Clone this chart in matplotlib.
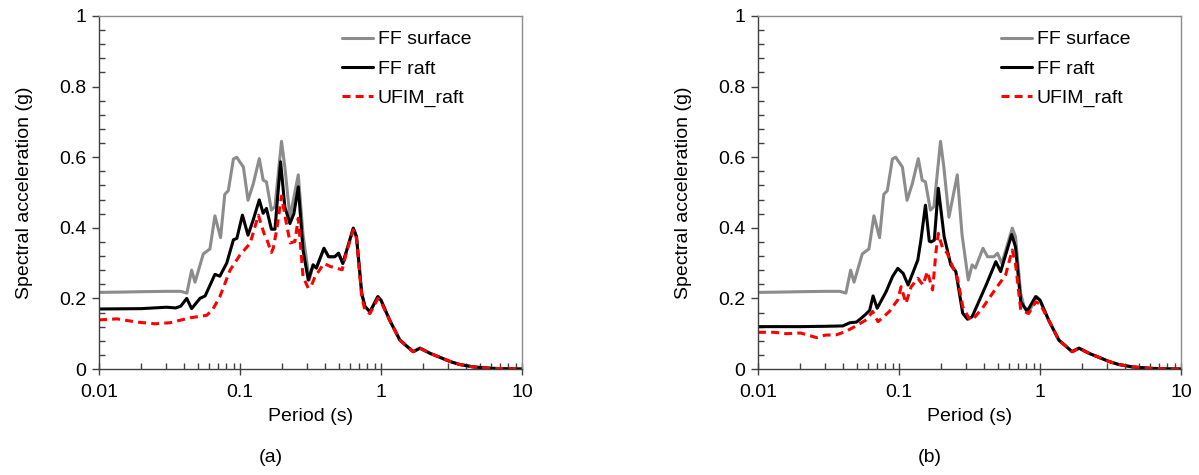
import numpy as np
import matplotlib
matplotlib.use("Agg")
import matplotlib.pyplot as plt
from matplotlib.ticker import FixedLocator, FixedFormatter, MultipleLocator, LogLocator, NullFormatter

plt.rcParams['font.family'] = ['Liberation Sans', 'DejaVu Sans']

# ---------------- data ----------------
# FF surface (same in both panels)
ff_surf_T = [0.01, 0.015, 0.02, 0.03, 0.038, 0.042, 0.0454, 0.048, 0.0549, 0.0612, 0.0664, 0.0728,
             0.078, 0.0826, 0.0898, 0.0947, 0.1057, 0.114, 0.1243, 0.137, 0.146, 0.154, 0.167, 0.177,
             0.197, 0.208, 0.226, 0.259, 0.28, 0.31, 0.33, 0.348, 0.394, 0.425, 0.47, 0.50, 0.536,
             0.636, 0.67, 0.73, 0.77, 0.835, 0.95, 1.0, 1.15, 1.36, 1.69, 1.89, 2.24, 2.62, 3.1,
             3.6, 4.5, 6.0, 8.0, 10.0]
ff_surf_Sa = [0.217, 0.218, 0.219, 0.220, 0.220, 0.215, 0.280, 0.246, 0.326, 0.340, 0.434, 0.372,
              0.495, 0.505, 0.595, 0.600, 0.572, 0.478, 0.525, 0.596, 0.535, 0.530, 0.450, 0.460,
              0.645, 0.572, 0.430, 0.550, 0.380, 0.252, 0.295, 0.286, 0.342, 0.318, 0.318, 0.328,
              0.299, 0.399, 0.375, 0.214, 0.177, 0.162, 0.205, 0.195, 0.139, 0.082, 0.049, 0.059,
              0.044, 0.033, 0.021, 0.013, 0.006, 0.002, 0.0005, 0.0]

# Panel (a) FF raft
a_raft_T = [0.01, 0.02, 0.03, 0.035, 0.038, 0.0419, 0.0454, 0.052, 0.0566, 0.0664, 0.072, 0.0805,
            0.0898, 0.095, 0.104, 0.114, 0.124, 0.137, 0.146, 0.154, 0.167, 0.177, 0.194, 0.208,
            0.226, 0.241, 0.259, 0.28, 0.305, 0.33, 0.348, 0.394, 0.425, 0.47, 0.50, 0.536, 0.636,
            0.67, 0.73, 0.77, 0.835, 0.95, 1.0, 1.15, 1.36, 1.69, 1.89, 2.24, 2.62, 3.1, 3.6, 4.5,
            6.0, 8.0, 10.0]
a_raft_Sa = [0.170, 0.171, 0.175, 0.173, 0.178, 0.200, 0.171, 0.200, 0.207, 0.268, 0.263, 0.300,
             0.366, 0.370, 0.436, 0.379, 0.422, 0.479, 0.441, 0.455, 0.396, 0.396, 0.587, 0.459,
             0.412, 0.440, 0.516, 0.337, 0.252, 0.295, 0.286, 0.342, 0.318, 0.318, 0.328, 0.299,
             0.399, 0.375, 0.214, 0.177, 0.162, 0.205, 0.195, 0.139, 0.082, 0.049, 0.059, 0.044,
             0.033, 0.021, 0.013, 0.006, 0.002, 0.0005, 0.0]

# Panel (a) UFIM raft
a_ufim_T = [0.01, 0.0134, 0.0185, 0.025, 0.0318, 0.0442, 0.058, 0.0637, 0.072, 0.085, 0.1, 0.118,
            0.135, 0.148, 0.154, 0.167, 0.172, 0.182, 0.197, 0.213, 0.227, 0.245, 0.259, 0.28,
            0.305, 0.322, 0.34, 0.394, 0.44, 0.53, 0.57, 0.636, 0.67, 0.73, 0.77, 0.835, 0.95,
            1.0, 1.15, 1.36, 1.69, 1.89, 2.24, 2.62, 3.1, 3.6, 4.5, 6.0, 8.0, 10.0]
a_ufim_Sa = [0.139, 0.142, 0.133, 0.128, 0.131, 0.145, 0.152, 0.167, 0.205, 0.280, 0.323, 0.356,
             0.436, 0.384, 0.370, 0.330, 0.342, 0.394, 0.490, 0.413, 0.357, 0.361, 0.427, 0.261,
             0.229, 0.238, 0.261, 0.299, 0.290, 0.281, 0.332, 0.394, 0.370, 0.205, 0.165, 0.157,
             0.200, 0.190, 0.139, 0.082, 0.049, 0.059, 0.044, 0.033, 0.021, 0.013, 0.006, 0.002,
             0.0005, 0.0]

# Panel (b) FF raft
b_raft_T = [0.01, 0.02, 0.03, 0.04, 0.0448, 0.05, 0.057, 0.0619, 0.0655, 0.070, 0.081, 0.090,
            0.098, 0.107, 0.116, 0.125, 0.136, 0.143, 0.154, 0.164, 0.169, 0.178, 0.190, 0.209,
            0.233, 0.253, 0.283, 0.306, 0.33, 0.415, 0.486, 0.526, 0.63, 0.67, 0.73, 0.81, 0.93,
            1.0, 1.15, 1.36, 1.69, 1.89, 2.24, 2.62, 3.1, 3.6, 4.5, 6.0, 8.0, 10.0]
b_raft_Sa = [0.120, 0.120, 0.121, 0.122, 0.131, 0.133, 0.152, 0.166, 0.207, 0.172, 0.219, 0.262,
             0.285, 0.271, 0.238, 0.271, 0.309, 0.365, 0.464, 0.362, 0.360, 0.365, 0.512, 0.375,
             0.295, 0.276, 0.158, 0.141, 0.148, 0.238, 0.304, 0.276, 0.381, 0.346, 0.191, 0.163,
             0.205, 0.195, 0.139, 0.082, 0.049, 0.059, 0.044, 0.033, 0.021, 0.013, 0.006, 0.002,
             0.0005, 0.0]

# Panel (b) UFIM raft
b_ufim_T = [0.01, 0.013, 0.016, 0.02, 0.026, 0.030, 0.0361, 0.0423, 0.0485, 0.059, 0.065, 0.071,
            0.0855, 0.098, 0.1035, 0.112, 0.122, 0.136, 0.148, 0.159, 0.173, 0.183, 0.19, 0.204,
            0.22, 0.24, 0.26, 0.283, 0.313, 0.33, 0.39, 0.486, 0.57, 0.635, 0.67, 0.73, 0.83, 0.93,
            1.0, 1.15, 1.36, 1.69, 1.89, 2.24, 2.62, 3.1, 3.6, 4.5, 6.0, 8.0, 10.0]
b_ufim_Sa = [0.104, 0.104, 0.100, 0.102, 0.089, 0.096, 0.097, 0.107, 0.120, 0.140, 0.163, 0.134,
             0.163, 0.196, 0.233, 0.186, 0.233, 0.257, 0.238, 0.276, 0.224, 0.333, 0.384, 0.342,
             0.328, 0.290, 0.257, 0.177, 0.144, 0.138, 0.172, 0.228, 0.266, 0.337, 0.300, 0.167,
             0.157, 0.190, 0.185, 0.139, 0.082, 0.049, 0.059, 0.044, 0.033, 0.021, 0.013, 0.006,
             0.002, 0.0005, 0.0]

x_ticks = [0.01, 0.1, 1, 10]
x_tick_labels = ["0.01", "0.1", "1", "10"]
y_ticks = [0, 0.2, 0.4, 0.6, 0.8, 1.0]
y_tick_labels = ["0", "0.2", "0.4", "0.6", "0.8", "1"]
series_labels = ["FF surface", "FF raft", "UFIM_raft"]
panel_labels = ["(a)", "(b)"]

panels = [
    (ff_surf_T, ff_surf_Sa, a_raft_T, a_raft_Sa, a_ufim_T, a_ufim_Sa),
    (ff_surf_T, ff_surf_Sa, b_raft_T, b_raft_Sa, b_ufim_T, b_ufim_Sa),
]

# ---------------- figure ----------------
W, H = 1199, 475
fig = plt.figure(figsize=(W / 100, H / 100), dpi=100)

ax_lefts = [99, 758]
ax_w = 423
ax_top, ax_bot = 16, 369

FS = 14
for i, (sT, sS, rT, rS, uT, uS) in enumerate(panels):
    ax = fig.add_axes([ax_lefts[i] / W, (H - ax_bot) / H, ax_w / W, (ax_bot - ax_top) / H])
    ax.plot(sT, sS, color='#8c8c8c', lw=2.2, label=series_labels[0],
            solid_joinstyle='round', solid_capstyle='round')
    ax.plot(rT, rS, color='black', lw=2.2, label=series_labels[1],
            solid_joinstyle='round', solid_capstyle='round')
    ax.plot(uT, uS, color='#ff0000', lw=2.2, ls=(0, (2.6, 1.7)), label=series_labels[2])
    ax.set_xscale('log')
    ax.set_xlim(0.01, 10)
    ax.set_ylim(0, 1)
    ax.xaxis.set_major_locator(FixedLocator(x_ticks))
    ax.xaxis.set_major_formatter(FixedFormatter(x_tick_labels))
    ax.xaxis.set_minor_locator(LogLocator(base=10, subs=np.arange(2, 10)))
    ax.xaxis.set_minor_formatter(NullFormatter())
    ax.yaxis.set_major_locator(FixedLocator(y_ticks))
    ax.yaxis.set_major_formatter(FixedFormatter(y_tick_labels))
    ax.yaxis.set_minor_locator(MultipleLocator(0.04))
    ax.tick_params(axis='x', which='major', direction='inout', length=9, width=1,
                   labelsize=FS, pad=6, color='#404040')
    ax.tick_params(axis='x', which='minor', direction='in', length=4, width=1, color='#404040')
    ax.tick_params(axis='y', which='major', direction='out', length=5, width=1,
                   labelsize=FS, pad=4, color='#404040')
    ax.tick_params(axis='y', which='minor', direction='in', length=4, width=1, color='#404040')
    for s in ['left', 'bottom']:
        ax.spines[s].set_color('#404040')
        ax.spines[s].set_linewidth(1.0)
    for s in ['top', 'right']:
        ax.spines[s].set_color('#8c8c8c')
        ax.spines[s].set_linewidth(1.0)
    ax.set_xlabel("Period (s)", fontsize=FS, labelpad=5)
    ax.set_ylabel("Spectral acceleration (g)", fontsize=FS, labelpad=19)
    leg = ax.legend(loc='upper left', bbox_to_anchor=(0.574, 0.958), frameon=False,
                    fontsize=FS, handlelength=1.6, handletextpad=0.25, labelspacing=0.6,
                    borderaxespad=0.0, borderpad=0.0)
    cx = (ax_lefts[i] + ax_w / 2 - 40) / W
    fig.text(cx, 1 - 458 / H, panel_labels[i], ha='center', va='center', fontsize=FS)

fig.savefig("out.png", dpi=100)
